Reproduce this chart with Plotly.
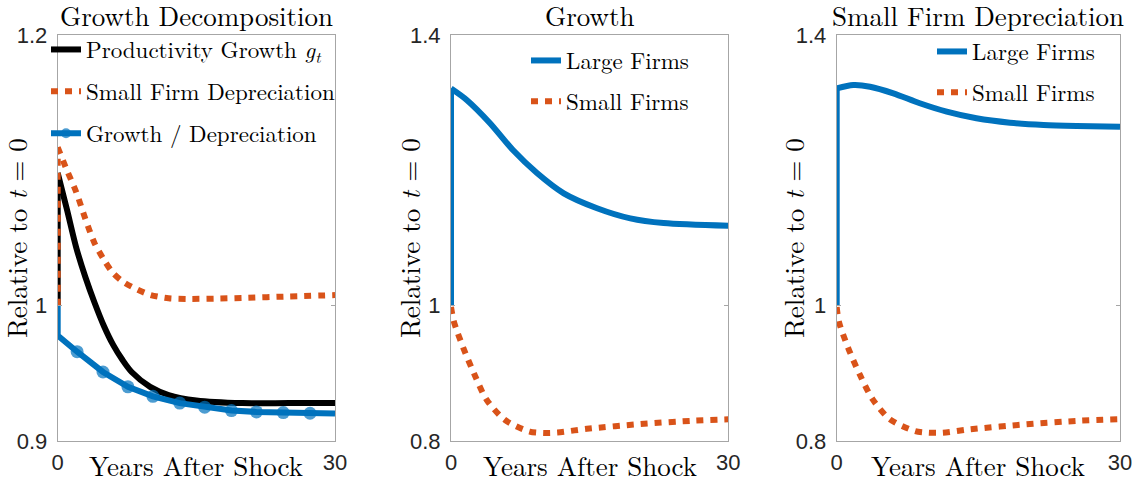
import plotly.graph_objects as go

BLUE = "#0072BD"
ORANGE = "#D95319"
BLACK = "#000000"

# ---------------- Panel 1: Growth Decomposition ----------------
prod_t = [0, 0, 1, 2, 3, 4, 5, 6, 7, 8, 10, 12, 15, 20, 25, 30]
prod_v = [1.0, 1.098, 1.071, 1.043, 1.021, 1.002, 0.985, 0.971, 0.960, 0.951,
          0.940, 0.934, 0.930, 0.928, 0.928, 0.928]

dep_t = [0, 0, 1, 2, 3, 4, 5, 6, 7, 8, 10, 12, 14, 17, 20, 25, 30]
dep_v = [1.0, 1.117, 1.100, 1.084, 1.064, 1.046, 1.034, 1.024, 1.018, 1.014,
         1.008, 1.0055, 1.005, 1.0052, 1.0057, 1.0068, 1.0078]

ratio_t = [0, 0, 2.1, 4.9, 7.6, 10.3, 13.2, 15.9, 18.8, 21.5, 24.4, 27.3, 30]
ratio_v = [1.0, 0.978, 0.966, 0.951, 0.940, 0.933, 0.928, 0.925, 0.9225,
           0.9215, 0.921, 0.9205, 0.9203]

# ---------------- Panel 2: Growth ----------------
g_large_t = [0, 0, 1.7, 4.2, 6.7, 9.3, 12.2, 15.8, 19.4, 23, 30]
g_large_v = [1.0, 1.321, 1.304, 1.270, 1.230, 1.196, 1.166, 1.144, 1.129, 1.122, 1.118]

g_small_t = [0, 0.3, 1.35, 2.55, 3.85, 5.85, 8.5, 10, 11.5, 14.7, 20.5, 26.2, 30]
g_small_v = [0.998, 0.977, 0.937, 0.898, 0.861, 0.831, 0.814, 0.812, 0.8125,
             0.818, 0.825, 0.830, 0.832]

# ---------------- Panel 3: Small Firm Depreciation ----------------
d_large_t = [0, 0, 1.76, 3.53, 6.0, 8.8, 11.65, 14.8, 18.35, 21.9, 25.4, 30]
d_large_v = [1.0, 1.321, 1.326, 1.3236, 1.3138, 1.2991, 1.2867, 1.2769, 1.2704,
             1.267, 1.2655, 1.2645]

d_small_t = [0, 0.24, 1.23, 2.47, 3.81, 5.64, 8.29, 9.7, 11.2, 14.1, 20.1, 25.8, 30]
d_small_v = [0.998, 0.976, 0.937, 0.8975, 0.8616, 0.8321, 0.8148, 0.8123, 0.8123,
             0.8172, 0.8247, 0.830, 0.8321]

titles = ["Growth Decomposition", "Growth", "Small Firm Depreciation"]
xlabel = "Years After Shock"
ylabel = "Relative to <i>t</i> = 0"
x_ticks = [0, 30]
y_ticks = [[0.9, 1, 1.2], [0.8, 1, 1.4], [0.8, 1, 1.4]]
y_ranges = [[0.9, 1.2], [0.8, 1.4], [0.8, 1.4]]

SERIF = "Latin Modern Roman"
SANS = "Liberation Sans"
W, H = 1133, 481
LW = 6
DOT = "7px,7px"

fig = go.Figure()


def jump_and_curve(t, v, color, dash, name, xa, ya, legend, group, shape="spline"):
    # vertical jump at t = 0
    fig.add_trace(go.Scatter(x=t[:2], y=v[:2], mode="lines",
                             line=dict(color=color, width=LW, dash=dash),
                             xaxis=xa, yaxis=ya, showlegend=False,
                             legendgroup=group, hoverinfo="skip"))
    fig.add_trace(go.Scatter(x=t[1:], y=v[1:], mode="lines", name=name,
                             line=dict(color=color, width=LW, dash=dash,
                                       shape=shape, smoothing=0.8),
                             xaxis=xa, yaxis=ya, legend=legend,
                             legendgroup=group))


# Panel 1
jump_and_curve(prod_t, prod_v, BLACK, "solid",
               "Productivity Growth <i>g<sub>t</sub></i>", "x", "y", "legend", "a1")
jump_and_curve(dep_t, dep_v, ORANGE, DOT, "Small Firm Depreciation", "x", "y",
               "legend", "a2")
msize = [0, 0] + [13] * (len(ratio_t) - 3) + [0]
fig.add_trace(go.Scatter(x=ratio_t, y=ratio_v, mode="lines+markers",
                         name="Growth / Depreciation",
                         line=dict(color=BLUE, width=LW),
                         marker=dict(color=BLUE, size=msize, symbol="circle",
                                     line=dict(width=0)),
                         xaxis="x", yaxis="y", legend="legend", legendgroup="a3"))

# Panel 2
jump_and_curve(g_large_t, g_large_v, BLUE, "solid", "Large Firms", "x2", "y2",
               "legend2", "b1")
fig.add_trace(go.Scatter(x=g_small_t, y=g_small_v, mode="lines", name="Small Firms",
                         line=dict(color=ORANGE, width=LW, dash=DOT,
                                   shape="spline", smoothing=0.8),
                         xaxis="x2", yaxis="y2", legend="legend2", legendgroup="b2"))

# Panel 3
jump_and_curve(d_large_t, d_large_v, BLUE, "solid", "Large Firms", "x3", "y3",
               "legend3", "c1")
fig.add_trace(go.Scatter(x=d_small_t, y=d_small_v, mode="lines", name="Small Firms",
                         line=dict(color=ORANGE, width=LW, dash=DOT,
                                   shape="spline", smoothing=0.8),
                         xaxis="x3", yaxis="y3", legend="legend3", legendgroup="c2"))

# Layout geometry (pixels -> paper)
x_doms_px = [(57.7, 335.0), (451.0, 728.3), (836.7, 1120.0)]
y_dom_px = (35.0, 441.0)
ydom = [1 - y_dom_px[1] / H, 1 - y_dom_px[0] / H]

axis_common = dict(showline=True, linecolor="#a6a6a6", linewidth=1, mirror="ticks",
                   ticks="inside", ticklen=4, tickcolor="#a6a6a6",
                   showgrid=False, zeroline=False, automargin=False,
                   tickfont=dict(family=SANS, size=22, color="#262626"))

layout = dict(width=W, height=H,
              margin=dict(l=0, r=0, t=0, b=0, autoexpand=False),
              plot_bgcolor="white", paper_bgcolor="white", annotations=[])
for i in range(3):
    sfx = "" if i == 0 else str(i + 1)
    xd = [x_doms_px[i][0] / W, x_doms_px[i][1] / W]
    layout["xaxis" + sfx] = dict(domain=xd, range=[0, 30], tickvals=x_ticks,
                                 anchor="y" + sfx, ticklabelstandoff=2, **axis_common)
    layout["yaxis" + sfx] = dict(domain=ydom, range=y_ranges[i], tickvals=y_ticks[i],
                                 anchor="x" + sfx, ticklabelstandoff=5, **axis_common)
    cx = (xd[0] + xd[1]) / 2
    layout["annotations"].append(dict(text=titles[i], x=cx, y=1 - 15 / H,
                                      xref="paper", yref="paper", showarrow=False,
                                      xanchor="center", yanchor="middle",
                                      font=dict(family=SERIF, size=27, color="black")))
    layout["annotations"].append(dict(text=xlabel, x=cx, y=1 - 465 / H,
                                      xref="paper", yref="paper", showarrow=False,
                                      xanchor="center", yanchor="middle",
                                      font=dict(family=SERIF, size=27, color="black")))
ylab_x = [16, 409, 793]
for i in range(3):
    layout["annotations"].append(dict(text=ylabel, x=ylab_x[i] / W, y=1 - 238 / H,
                                      xref="paper", yref="paper", showarrow=False,
                                      textangle=-90, xanchor="center", yanchor="middle",
                                      font=dict(family=SERIF, size=27, color="black")))

leg_common = dict(bgcolor="rgba(0,0,0,0)", borderwidth=0, xanchor="left",
                  yanchor="top", traceorder="grouped",
                  itemwidth=30, font=dict(family=SERIF, size=23, color="black"))
layout["legend"] = dict(x=(88 - 42) / W, y=1 - 28 / H, tracegroupgap=9, **leg_common)
layout["legend2"] = dict(x=(568 - 42) / W, y=1 - 39 / H, tracegroupgap=8, **leg_common)
layout["legend3"] = dict(x=(974 - 42) / W, y=1 - 30 / H, tracegroupgap=8, **leg_common)
layout["showlegend"] = True

fig.update_layout(**layout)
fig.write_html("out.html", config={"displayModeBar": False},
               post_script="document.body.style.margin='0';")
